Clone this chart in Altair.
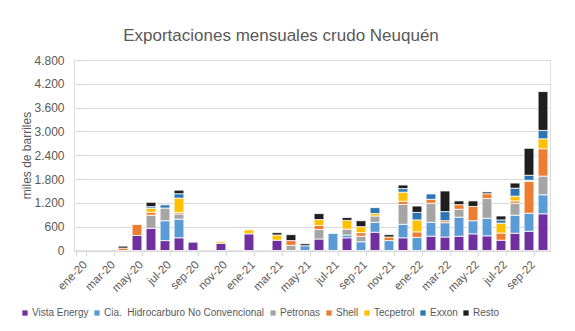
import altair as alt
import pandas as pd

months = ["ene-20","feb-20","mar-20","abr-20","may-20","jun-20","jul-20","ago-20","sep-20","oct-20","nov-20","dic-20",
          "ene-21","feb-21","mar-21","abr-21","may-21","jun-21","jul-21","ago-21","sep-21","oct-21","nov-21","dic-21",
          "ene-22","feb-22","mar-22","abr-22","may-22","jun-22","jul-22","ago-22","sep-22","oct-22"]

vista     = [0,0,0,0,380,560,250,320,210,0,180,0,420,0,260,0,0,290,0,320,0,460,0,320,0,360,340,360,420,370,260,435,485,925]
cia       = [0,0,0,0,0,0,500,470,0,0,0,0,0,0,0,0,120,0,430,70,220,250,250,340,330,350,360,480,330,440,0,455,455,480]
petronas  = [0,0,0,0,0,330,320,130,0,0,0,0,0,0,0,130,0,240,0,150,140,160,0,500,0,480,0,200,0,500,0,300,0,470]
shell     = [0,0,0,60,275,75,0,40,0,0,0,0,0,0,0,120,0,100,0,0,90,0,90,80,140,100,50,115,360,120,180,60,800,690]
tecpetrol = [0,0,0,0,0,100,0,360,0,0,40,0,100,0,130,0,0,150,0,220,150,60,0,230,300,0,0,0,0,0,250,120,30,250]
exxon     = [0,0,0,0,0,40,80,110,0,0,0,0,0,0,0,0,0,0,0,0,0,150,0,90,190,135,230,0,0,0,80,200,125,210]
resto     = [0,0,0,50,0,110,0,90,0,0,0,0,0,0,60,150,50,150,0,70,150,0,60,90,160,0,520,95,140,45,100,130,680,980]

series_names = ["Vista Energy", "Cia. \u00a0Hidrocarburo No Convencional", "Petronas", "Shell", "Tecpetrol", "Exxon", "Resto"]
series_vals = [vista, cia, petronas, shell, tecpetrol, exxon, resto]
colors = ["#7030A0", "#5B9BD5", "#A5A5A5", "#ED7D31", "#FFC000", "#2E75B6", "#1F1F1F"]

shown_labels = months[::2]
y_ticks = [0, 600, 1200, 1800, 2400, 3000, 3600, 4200, 4800]

rows = []
for k, (name, vals) in enumerate(zip(series_names, series_vals)):
    for m, v in zip(months, vals):
        if v > 0:
            rows.append({"mes": m, "empresa": name, "valor": v, "orden": k})
df = pd.DataFrame(rows)

FONT = "Liberation Sans, Arial"
GREY = "#595959"

chart = alt.Chart(df).mark_bar(stroke="white", strokeWidth=0.8).encode(
    x=alt.X("mes:N", sort=months,
            scale=alt.Scale(domain=months, paddingInner=0.3, paddingOuter=0.15),
            axis=alt.Axis(title=None, values=shown_labels, labelAngle=-45, labelFontSize=11.5,
                          labelColor=GREY, labelFont=FONT, tickBand="extent", tickSize=5,
                          tickColor="#D9D9D9", domainColor="#D9D9D9", labelPadding=3,
                          labelAlign="right", labelBaseline="top")),
    y=alt.Y("valor:Q", stack="zero",
            scale=alt.Scale(domain=[0, 4800], nice=False),
            axis=alt.Axis(title="miles de barriles", values=y_ticks,
                          labelExpr="replace(format(datum.value, ','), ',', '.')",
                          labelFontSize=12, labelColor=GREY, labelFont=FONT, labelPadding=10,
                          ticks=False, domain=False, gridColor="#D9D9D9", titleFont=FONT,
                          titleFontSize=12, titleColor=GREY, titleFontWeight="normal",
                          titleX=-44, titleY=95, titleAlign="center", titleBaseline="alphabetic",
                          titleAngle=270)),
    color=alt.Color("empresa:N", sort=series_names,
                    scale=alt.Scale(domain=series_names, range=colors),
                    legend=alt.Legend(title=None, orient="none", direction="horizontal",
                                      legendX=-54, legendY=248, symbolType="square",
                                      symbolSize=28, labelFontSize=10, labelFont=FONT,
                                      labelColor=GREY, columnPadding=3, labelOffset=2,
                                      labelLimit=400, symbolStrokeWidth=0, gridAlign="none")),
    order=alt.Order("orden:Q", sort="ascending"),
).properties(
    width=476, height=190.5,
    title=alt.TitleParams("Exportaciones mensuales crudo Neuquén", font=FONT, fontSize=17,
                          fontWeight="normal", color=GREY, anchor="middle", frame="group",
                          dx=-31, dy=23, offset=19, baseline="alphabetic"),
    autosize=alt.AutoSizeParams(type="none"),
    padding={"left": 74, "top": 60, "right": 25, "bottom": 80.5},
).configure_view(stroke=None).configure(background="white")

chart.save("out.html", embed_options={"renderer": "svg", "actions": False})
